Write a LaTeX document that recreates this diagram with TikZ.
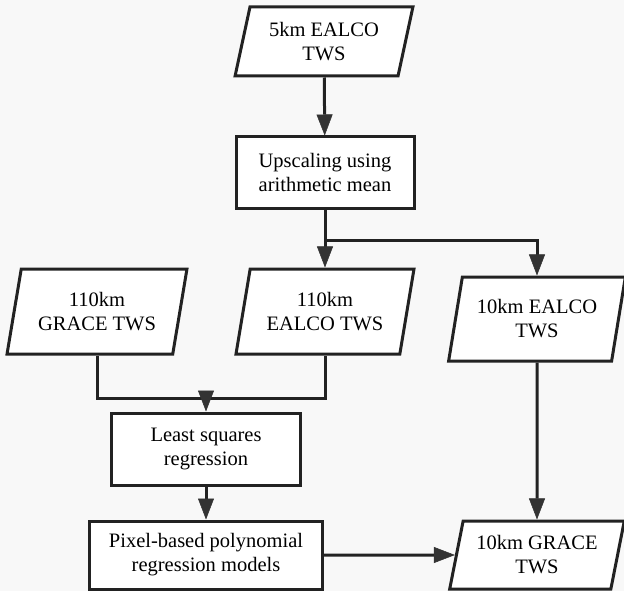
\documentclass[tikz,border=0pt]{standalone}
\usepackage{fontspec}
\setmainfont{Liberation Serif}
\usetikzlibrary{shapes.geometric,arrows.meta}
\definecolor{bgc}{RGB}{248,248,248}
\definecolor{linec}{RGB}{34,34,34}
\definecolor{tipc}{RGB}{51,51,51}
\tikzset{
  box/.style={draw=linec, line width=3pt, fill=white, rectangle, align=center,
    font=\fontsize{20.5}{24}\selectfont, inner sep=0pt},
  para/.style={draw=linec, line width=3pt, fill=white, trapezium,
    trapezium left angle=74, trapezium right angle=106, trapezium stretches=true,
    align=center, font=\fontsize{20.5}{24}\selectfont, inner sep=0pt},
  conn/.style={draw=linec, line width=3pt},
  arr/.style={conn, -{Triangle[length=21pt,width=16pt,line width=0.5pt,fill=tipc,color=tipc]}},
}
\begin{document}
\begin{tikzpicture}[x=1pt,y=-1pt]
\fill[bgc] (0,0) rectangle (624,591);
\useasboundingbox (0,0) rectangle (624,591);
\node[para, minimum width=178pt, minimum height=69pt] (ealco5) at (324,41.5) {5km EALCO\\TWS};
\node[box, minimum width=178pt, minimum height=71pt] (ups) at (325,172.5) {Upscaling using\\arithmetic mean};
\node[para, minimum width=180pt, minimum height=85pt] (grace110) at (97,311.5) {110km\\GRACE TWS};
\node[para, minimum width=178pt, minimum height=85pt] (ealco110) at (325,311.5) {110km\\EALCO TWS};
\node[para, minimum width=177pt, minimum height=84pt] (ealco10) at (537,319) {10km EALCO\\TWS};
\node[box, minimum width=189pt, minimum height=72pt] (lsq) at (206,449) {Least squares\\regression};
\node[box, minimum width=233pt, minimum height=68pt] (pix) at (206,555) {Pixel-based polynomial\\regression models};
\node[para, minimum width=175pt, minimum height=68pt] (grace10) at (537,555) {10km GRACE\\TWS};
\coordinate (j1) at (325,240);
\coordinate (j2) at (206,398);
\draw[arr] (ealco5) -- (ups);
\draw[arr] (ups) -- (ealco110);
\draw[arr] (j1) -| (ealco10);
\draw[conn] (grace110) |- (j2) -| (ealco110);
\draw[arr] (j2) -- (lsq);
\draw[arr] (lsq) -- (pix);
\draw[arr] (ealco10) -- (grace10);
\draw[arr] (pix) -- (grace10);
\end{tikzpicture}
\end{document}
